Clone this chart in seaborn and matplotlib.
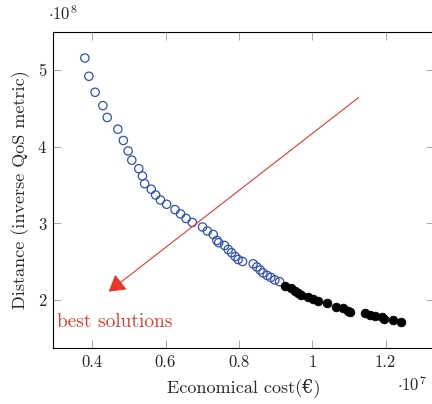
import numpy as np
import pandas as pd
import matplotlib
matplotlib.use("Agg")
import matplotlib.pyplot as plt
import seaborn as sns

# pareto front: cost (x 1e7 EUR) and distance (x 1e8)
cost_other = [0.380, 0.391, 0.408, 0.429, 0.441, 0.470, 0.485, 0.498, 0.508, 0.527,
              0.537, 0.543, 0.561, 0.573, 0.586, 0.603, 0.626, 0.641, 0.656, 0.673,
              0.701, 0.714, 0.730, 0.740, 0.745, 0.761, 0.771, 0.780, 0.790, 0.798,
              0.810, 0.839, 0.849, 0.858, 0.866, 0.877, 0.887, 0.898, 0.911]
dist_other = [5.156, 4.918, 4.709, 4.535, 4.381, 4.228, 4.081, 3.944, 3.824, 3.713,
              3.618, 3.518, 3.445, 3.370, 3.305, 3.249, 3.179, 3.123, 3.064, 3.012,
              2.953, 2.901, 2.855, 2.777, 2.748, 2.712, 2.660, 2.618, 2.568, 2.529,
              2.503, 2.473, 2.432, 2.392, 2.353, 2.321, 2.295, 2.262, 2.240]

cost_best = [0.925, 0.943, 0.952, 0.961, 0.969, 0.989, 1.002, 1.016, 1.039, 1.064,
             1.084, 1.098, 1.102, 1.143, 1.157, 1.170, 1.189, 1.195, 1.219, 1.243]
dist_best = [2.184, 2.154, 2.123, 2.096, 2.066, 2.044, 2.014, 1.992, 1.958, 1.914,
             1.893, 1.862, 1.845, 1.828, 1.806, 1.793, 1.776, 1.757, 1.737, 1.718]

xticks = [0.4, 0.6, 0.8, 1.0, 1.2]
xtick_labels = ["0.4", "0.6", "0.8", "1", "1.2"]
yticks = [2, 3, 4, 5]
ytick_labels = ["2", "3", "4", "5"]

arrow_start = (1.126, 4.639)
arrow_end = (0.445, 2.11)

df_other = pd.DataFrame({"cost": cost_other, "dist": dist_other})
df_best = pd.DataFrame({"cost": cost_best, "dist": dist_best})

sns.set_style("ticks")
plt.rcParams["font.family"] = ["cmr10", "DejaVu Serif"]
plt.rcParams["mathtext.fontset"] = "cm"
plt.rcParams["axes.unicode_minus"] = False

blue = "#3050b0"
red = "#e5392c"

fig = plt.figure(figsize=(4.32, 4.04), dpi=100)
ax = fig.add_axes([53.3 / 432, 1 - 347.7 / 404, (434 - 53.3) / 432, (347.7 - 31.7) / 404])

sns.scatterplot(data=df_other, x="cost", y="dist", ax=ax, marker="o", s=36,
                facecolor="none", edgecolor=blue, linewidth=0.9, zorder=3)
sns.scatterplot(data=df_best, x="cost", y="dist", ax=ax, marker="o", s=40,
                color="black", edgecolor="black", linewidth=0.5, zorder=3)

ax.set_xlim(0.294, 1.332)
ax.set_ylim(1.379, 5.499)
ax.set_xticks(xticks)
ax.set_xticklabels(xtick_labels)
ax.set_yticks(yticks)
ax.set_yticklabels(ytick_labels)
ax.tick_params(direction="in", length=6, width=0.6, color="#999999",
               top=True, right=True, labelsize=12, pad=5)
for s in ax.spines.values():
    s.set_linewidth(0.8)
    s.set_color("black")

ax.set_xlabel("Economical cost(€)", fontsize=13, labelpad=6)
ax.set_ylabel("Distance (inverse QoS metric)", fontsize=13, labelpad=6)

ax.annotate("", xy=arrow_end, xytext=arrow_start,
            arrowprops=dict(arrowstyle="-|>,head_length=0.5,head_width=0.3", color=red,
                            lw=0.8, mutation_scale=20, shrinkA=0, shrinkB=0))
ax.text(0.303, 1.714, "best solutions", color=red, fontsize=14, ha="left", va="center")

fig.text(48 / 432, 1 - 20 / 404, r"$\cdot 10^8$", fontsize=12, ha="left", va="baseline")
fig.text(397 / 432, 1 - 391 / 404, r"$\cdot 10^7$", fontsize=12, ha="left", va="baseline")

fig.savefig("out.png", dpi=100)
